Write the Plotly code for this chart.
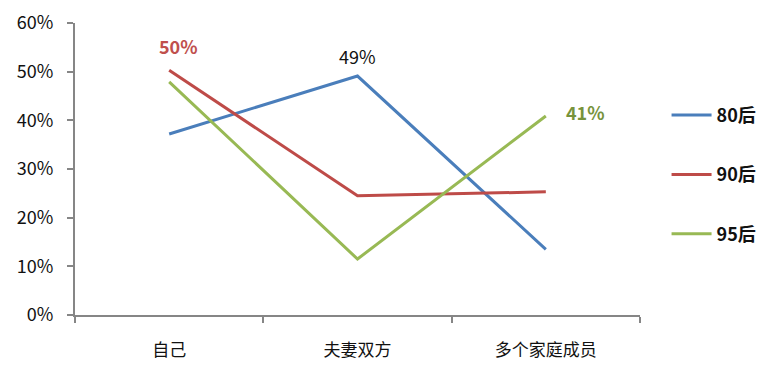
import plotly.graph_objects as go

categories = ["自己", "夫妻双方", "多个家庭成员"]
series_names = ["80后", "90后", "95后"]
v80 = [37.2, 49.1, 13.5]
v90 = [50.3, 24.5, 25.3]
v95 = [47.9, 11.5, 40.9]
y_ticks = [0, 10, 20, 30, 40, 50, 60]
y_tick_text = [f"{v}%" for v in y_ticks]

colors = ["#4A7EBB", "#BE4B48", "#98B954"]
FONT = "Noto Sans CJK SC, DejaVu Sans, sans-serif"

fig = go.Figure()
for name, vals, col in zip(series_names, [v80, v90, v95], colors):
    fig.add_trace(go.Scatter(
        x=categories, y=vals, mode="lines", name=f"<b>{name}</b>",
        line=dict(color=col, width=3), legendgroup=name,
    ))

# data labels
fig.add_annotation(x=categories[0], y=v90[0], text=f"<b>{round(v90[0])}%</b>",
                   showarrow=False, yshift=24, xshift=9,
                   font=dict(color="#C0504D", size=18, family=FONT))
fig.add_annotation(x=categories[1], y=v80[1], text=f"{round(v80[1])}%",
                   showarrow=False, yshift=20,
                   font=dict(color="#111111", size=18, family=FONT))
fig.add_annotation(x=categories[2], y=v95[2], text=f"<b>{round(v95[2])}%</b>",
                   showarrow=False, xshift=40, yshift=4,
                   font=dict(color="#77933C", size=18, family=FONT))

fig.update_layout(
    width=780, height=376,
    margin=dict(l=75, r=140, t=23, b=61),
    paper_bgcolor="white", plot_bgcolor="white",
    font=dict(family=FONT, color="#111111", size=16),
    showlegend=True,
    legend=dict(x=1.047, xanchor="left", xref="paper", y=0.48, yanchor="middle",
                traceorder="grouped", tracegroupgap=33,
                font=dict(size=18, family=FONT, color="#111111"),
                itemwidth=40),
    xaxis=dict(type="category", showgrid=False, showline=True, linecolor="#868686",
               linewidth=2, ticks="outside", tickson="boundaries", ticklen=6,
               tickcolor="#868686", tickwidth=1.5, ticklabelstandoff=19,
               tickfont=dict(size=17, family=FONT, color="#111111"),
               range=[-0.5, 2.5]),
    yaxis=dict(range=[0, 60], tickmode="array", tickvals=y_ticks, ticktext=y_tick_text,
               showgrid=False, automargin=False,
               showline=True, linecolor="#868686", linewidth=2, ticks="outside",
               ticklen=6, tickcolor="#868686", tickwidth=1.5, zeroline=False,
               ticklabelstandoff=10,
               tickfont=dict(size=18, family=FONT, color="#111111")),
)

fig.write_html("out.html")
